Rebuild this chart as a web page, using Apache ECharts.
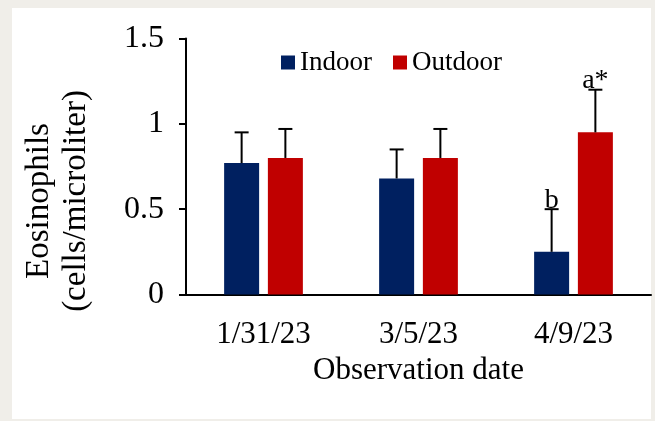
<!DOCTYPE html>
<html>
<head>
<meta charset="utf-8">
<script src="https://cdn.jsdelivr.net/npm/echarts@6/dist/echarts.min.js"></script>
<style>
  html, body { margin: 0; padding: 0; background: #f0eee9; }
  #chart { width: 655px; height: 421px; }
</style>
</head>
<body>
<div id="chart"></div>
<script>
// data
const dates = ['1/31/23', '3/5/23', '4/9/23']
const indoor = [0.77, 0.68, 0.25]
const indoorErr = [0.18, 0.17, 0.25]
const indoorMark = ['', '', 'b']
const outdoor = [0.80, 0.80, 0.95]
const outdoorErr = [0.17, 0.17, 0.25]
const outdoorMark = ['', '', 'a*']
const yTicks = [0, 0.5, 1, 1.5]

const serif = "'Liberation Serif', 'Times New Roman', serif"
const barW = 35
const barGapPct = 0.25
const offset = barW * (1 + barGapPct) / 2

// error bar + significance letter, drawn at the bar's centre
function errorSeries(name, means, errs, marks, dx) {
  return {
    type: 'custom',
    name: name + ' err',
    z: 5,
    data: means.map((m, i) => [i, m, errs[i], marks[i]]),
    encode: { x: 0, y: 1 },
    renderItem(params, api) {
      const i = api.value(0)
      const top = api.value(1) + api.value(2)
      const p0 = api.coord([i, api.value(1)])
      const p1 = api.coord([i, top])
      const x = p0[0] + dx
      const cap = 7
      const kids = [
        { type: 'line', shape: { x1: x, y1: p0[1], x2: x, y2: p1[1] }, style: { stroke: '#000', lineWidth: 2 } },
        { type: 'line', shape: { x1: x - cap, y1: p1[1], x2: x + cap, y2: p1[1] }, style: { stroke: '#000', lineWidth: 2 } }
      ]
      const mark = marks[i]
      if (mark) {
        kids.push({
          type: 'text',
          x: x, y: p1[1] + 5,
          style: { text: mark, fill: '#000', font: '28px ' + serif, align: 'center', verticalAlign: 'bottom' }
        })
      }
      return { type: 'group', children: kids }
    }
  }
}

const chart = echarts.init(document.getElementById('chart'))
chart.setOption({
  animation: false,
  backgroundColor: '#f0eee9',
  graphic: [
    { type: 'rect', left: 12, top: 8, shape: { width: 639, height: 411 }, style: { fill: '#fff' }, z: -10 },
    {
      type: 'text', x: 58, y: 201, rotation: Math.PI / 2,
      style: {
        text: 'Eosinophils\n(cells/microliter)', fill: '#000',
        font: '33px ' + serif, lineHeight: 37, align: 'center', verticalAlign: 'middle'
      }
    }
  ],
  legend: {
    data: ['Indoor', 'Outdoor'],
    left: 276,
    top: 44,
    icon: 'rect',
    itemWidth: 14,
    itemHeight: 14,
    itemGap: 21,
    textStyle: { fontFamily: serif, fontSize: 27, color: '#000' }
  },
  grid: { left: 186, right: 4, top: 38.5, bottom: 126.5 },
  xAxis: {
    type: 'category',
    data: dates,
    name: 'Observation date',
    nameLocation: 'middle',
    nameGap: 59,
    nameTextStyle: { fontFamily: serif, fontSize: 31, color: '#000' },
    axisLine: { lineStyle: { color: '#000', width: 2 } },
    axisTick: { length: 9, lineStyle: { color: '#000', width: 2 } },
    axisLabel: { fontFamily: serif, fontSize: 31, color: '#000', margin: 25 }
  },
  yAxis: {
    type: 'value',
    min: yTicks[0],
    max: yTicks[yTicks.length - 1],
    interval: 0.5,
    splitLine: { show: false },
    axisLine: { show: true, lineStyle: { color: '#000', width: 2 } },
    axisTick: { show: true, length: 7, lineStyle: { color: '#000', width: 2 } },
    axisLabel: { fontFamily: serif, fontSize: 32, color: '#000', margin: 22 }
  },
  series: [
    { name: 'Indoor', type: 'bar', data: indoor, barWidth: barW, barGap: '25%', itemStyle: { color: '#002060' } },
    { name: 'Outdoor', type: 'bar', data: outdoor, barWidth: barW, itemStyle: { color: '#c00000' } },
    errorSeries('Indoor', indoor, indoorErr, indoorMark, -offset),
    errorSeries('Outdoor', outdoor, outdoorErr, outdoorMark, offset)
  ]
})
</script>
</body>
</html>
